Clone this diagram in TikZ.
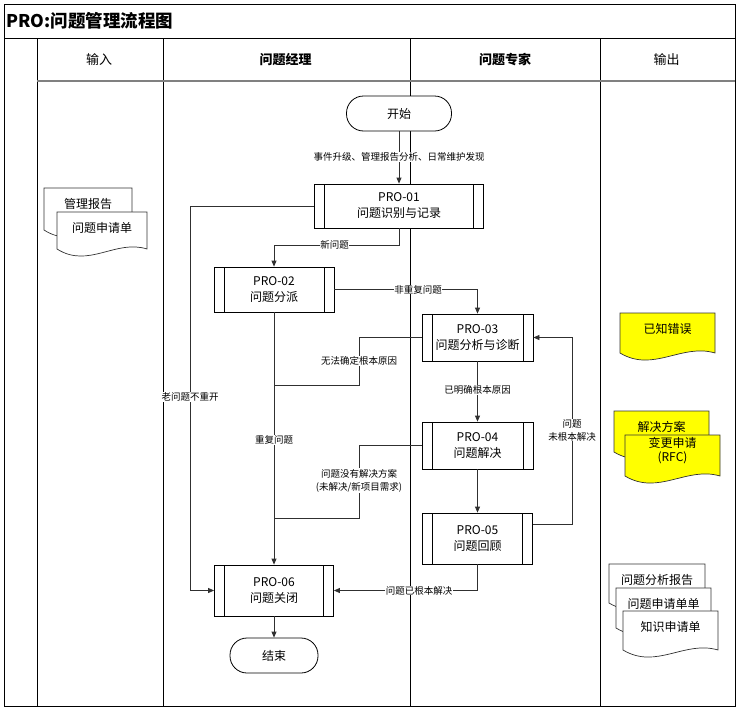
\documentclass[tikz,border=0pt]{standalone}
\usepackage{fontspec}
\setmainfont{Noto Sans CJK SC}
\usetikzlibrary{arrows.meta,calc}
\newcommand\fsz[2]{\fontsize{#1}{#2}\selectfont}
\definecolor{connc}{HTML}{303030}
\definecolor{docfill}{HTML}{FFFF00}
\newcommand\docshape[7]{%
  \path[docline,fill=#6] (#2,#3) -- (#4,#3) -- (#4,#5)
    .. controls ({#2+0.65*(#4-#2)},{#5-10}) and ({#2+0.35*(#4-#2)},{#5+20}) .. (#2,#5) -- cycle;
  \node[doctext] (#1) at ({(#2+#4)/2},{#3+16}) {#7};
}
\begin{document}
\begin{tikzpicture}[x=1pt,y=-1pt,
  frame/.style={draw=black,line width=0.9pt},
  proc/.style={draw=black,fill=white,line width=0.8pt,align=center,
    font=\fsz{12}{16},inner sep=0pt,
    path picture={\draw[line width=0.8pt]
      ([xshift=10pt]path picture bounding box.north west) -- ([xshift=10pt]path picture bounding box.south west)
      ([xshift=-10pt]path picture bounding box.north east) -- ([xshift=-10pt]path picture bounding box.south east);}},
  term/.style={draw=black,fill=white,line width=0.8pt,rounded corners=17pt,
    font=\fsz{12}{16},inner sep=0pt},
  conn/.style={draw=connc,line width=0.8pt},
  arr/.style={conn,-{Triangle[length=6pt,width=5pt]}},
  lbl/.style={fill=white,inner sep=0.6pt,font=\fsz{9.5}{13},align=center},
  docline/.style={draw=black!80,line width=0.7pt},
  doctext/.style={font=\fsz{12}{14},align=center,inner sep=0pt},
  hdr/.style={font=\fsz{13}{16}},
]
\useasboundingbox (0,0) rectangle (738,712);
% frame and lanes
\draw[frame] (4,4) rectangle (735,706);
\draw[frame] (4,38) -- (735,38);
\draw[frame] (37,38) -- (37,706);
\draw[frame] (163,38) -- (163,706);
\draw[frame] (410,38) -- (410,706);
\draw[frame] (600,38) -- (600,706);
\draw[draw=black!50,line width=2pt] (37,81) -- (735,81);
\node[anchor=west,font=\fsz{17.5}{20}\bfseries,inner sep=0pt] (title) at (6,21) {PRO:问题管理流程图};
\node[hdr] (h1) at (99,59.5) {输入};
\node[hdr,font=\fsz{13}{16}\bfseries] (h2) at (285.5,59.5) {问题经理};
\node[hdr,font=\fsz{13}{16}\bfseries] (h3) at (505,59.5) {问题专家};
\node[hdr] (h4) at (666.5,59.5) {输出};
% process nodes
\node[term,minimum width=105pt,minimum height=35pt] (start) at (399,113.5) {开始};
\node[proc,minimum width=169pt,minimum height=44pt] (p1) at (399,206) {PRO-01\\问题识别与记录};
\node[proc,minimum width=120pt,minimum height=45pt] (p2) at (274,289.5) {PRO-02\\问题分派};
\node[proc,minimum width=111pt,minimum height=47pt] (p3) at (477.5,337.5) {PRO-03\\问题分析与诊断};
\node[proc,minimum width=111pt,minimum height=47pt] (p4) at (477.5,445.5) {PRO-04\\问题解决};
\node[proc,minimum width=110pt,minimum height=51pt] (p5) at (477.5,538.5) {PRO-05\\问题回顾};
\node[proc,minimum width=119pt,minimum height=51pt] (p6) at (274,590.5) {PRO-06\\问题关闭};
\node[term,minimum width=88pt,minimum height=35pt] (end) at (274,655.5) {结束};
\coordinate (j1) at (274,385);
\coordinate (j2) at (274,518);
% connectors
\draw[arr] (start.south) -- (p1.north);
\draw[arr] (p1.south) -- ++(0,17) -| (p2.north);
\draw[arr] (p1.west) -| (190,590.5) -- (p6.west);
\draw[arr] (p2.east) -| (p3.north);
\draw[arr] (p2.south) -- (p6.north);
\draw[conn] (p3.west) -| (359,385) -- (j1);
\draw[arr] (p3.south) -- (p4.north);
\draw[conn] (p4.west) -| (359,518) -- (j2);
\draw[arr] (p4.south) -- (p5.north);
\draw[arr] ([yshift=14.5pt]p5.east) -- (572,524) |- (p3.east);
\draw[arr] (p5.south) |- (p6.east);
\draw[arr] (p6.south) -- (end.north);
% labels
\node[lbl] (l1) at (399,157) {事件升级、管理报告分析、日常维护发现};
\node[lbl] (l2) at (334.5,245) {新问题};
\node[lbl] (l3) at (418,289.5) {非重复问题};
\node[lbl] (l4) at (359,361) {无法确定根本原因};
\node[lbl] (l5) at (477.5,390) {已明确根本原因};
\node[lbl] (l6) at (359,480.5) {问题没有解决方案\\(未解决/新项目需求)};
\node[lbl] (l7) at (274,440) {重复问题};
\node[lbl] (l8) at (190,397) {老问题不重开};
\node[lbl] (l9) at (572,430) {问题\\未根本解决};
\node[lbl] (l10) at (419,590.5) {问题已根本解决};
% documents
\docshape{d1}{44}{188}{132}{230}{white}{管理报告}
\docshape{d2}{57}{212}{147}{249}{white}{问题申请单}
\docshape{d3}{620}{313}{715}{353}{docfill}{已知错误}
\docshape{d4}{614}{411}{709}{452}{docfill}{解决方案}
\docshape{d5}{625}{435}{720}{476}{docfill}{变更申请\\(RFC)}
\docshape{d6}{609}{564}{705}{603}{white}{问题分析报告}
\docshape{d7}{616}{588}{711}{628}{white}{问题申请单单}
\docshape{d8}{623}{611}{718}{650}{white}{知识申请单}
\end{tikzpicture}
\end{document}
